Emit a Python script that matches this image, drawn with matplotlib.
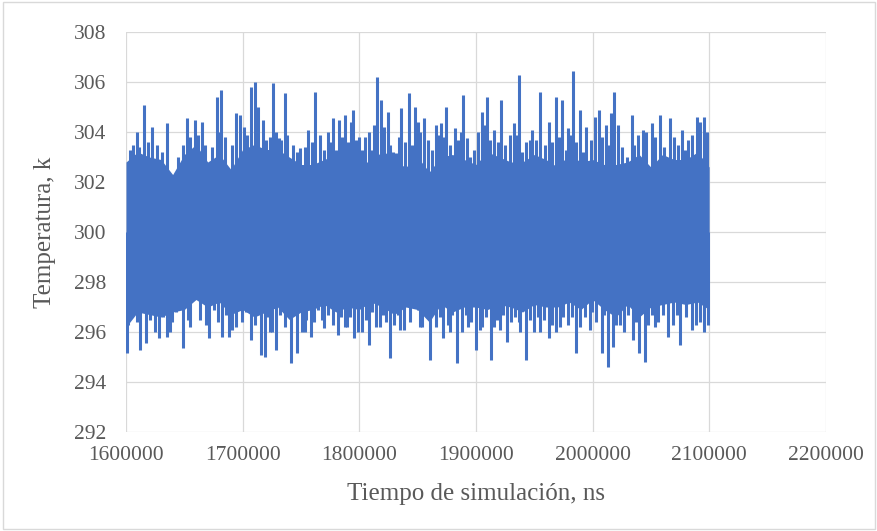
import numpy as np
import matplotlib.pyplot as plt
from matplotlib.patches import Rectangle

# envelope of the dense temperature signal
base_t = np.arange(1600000, 2100001, 10000)
base_hi = [302.8, 303.2, 303.0, 302.9, 302.3, 303.1, 303.5, 302.8, 303.1, 302.5,
           303.3, 303.5, 303.3, 303.3, 303.0, 302.7, 302.7, 302.9, 303.1, 302.9,
           303.0, 302.7, 303.3, 302.8, 302.6, 303.0, 302.4, 303.0, 303.1, 302.9,
           302.7, 303.2, 303.0, 302.8, 302.8, 303.1, 302.9, 302.6, 303.1, 302.8,
           302.9, 302.7, 302.7, 302.8, 303.1, 302.6, 303.1, 302.9, 302.9, 303.2, 302.6]
base_lo = [296.2, 296.8, 296.7, 296.6, 296.8, 296.9, 297.3, 297.0, 297.2, 296.7,
           296.9, 296.6, 296.8, 297.0, 296.5, 296.8, 296.9, 297.1, 296.8, 297.0,
           296.9, 297.2, 297.0, 296.7, 297.0, 296.9, 296.4, 297.1, 296.8, 297.0,
           297.0, 296.9, 297.1, 297.0, 296.8, 297.1, 297.0, 297.0, 297.2, 296.9,
           297.3, 296.9, 296.6, 297.1, 296.6, 297.0, 297.1, 297.2, 297.1, 297.2, 296.9]

# tall upward spikes
peak_t = [1609200, 1615400, 1622000, 1634900, 1652100, 1659200, 1664900, 1678300,
          1681700, 1685200, 1694600, 1697500, 1701200, 1706900, 1710400, 1713200,
          1717500, 1726100, 1731000, 1736100, 1749000, 1756100, 1762300, 1773000,
          1777300, 1782400, 1788100, 1793000, 1795000, 1799600, 1808100, 1815300,
          1818700, 1824400, 1831600, 1835800, 1843000, 1848100, 1855600, 1865600,
          1869900, 1874700, 1881900, 1889000, 1892700, 1905600, 1909300, 1915600,
          1921900, 1932700, 1936800, 1948200, 1955300, 1962500, 1969000, 1973900,
          1979100, 1983100, 1989600, 1994500, 2002500, 2005900, 2011600, 2015700,
          2018500, 2022200, 2033700, 2043600, 2050800, 2058000, 2066500, 2076600,
          2082200, 2089400, 2095900]
peak_v = [304.0, 305.1, 304.2, 304.35, 304.55, 304.5, 304.4, 305.4,
          305.7, 303.8, 304.75, 304.7, 304.2, 305.8, 306.0, 305.0,
          304.5, 305.95, 303.75, 305.55, 303.35, 304.1, 305.6, 304.0,
          304.55, 304.5, 304.7, 304.4, 304.9, 303.8, 304.0, 306.2,
          305.3, 304.8, 303.15, 304.95, 305.55, 305.0, 304.55, 304.3,
          304.35, 305.0, 304.15, 305.5, 303.75, 304.8, 305.4, 304.1,
          305.3, 304.35, 306.3, 304.1, 305.6, 304.4, 305.4, 305.3,
          304.15, 306.45, 304.9, 304.2, 304.6, 304.9, 304.3, 304.75,
          305.6, 304.3, 304.7, 304.1, 304.35, 304.7, 304.55, 304.1,
          303.7, 304.6, 304.6]

# smaller upward bristles
bristle_t = [1603400, 1606000, 1611100, 1618900, 1626600, 1630900, 1644600, 1648900,
             1654900, 1661700, 1667700, 1673700, 1680600, 1690900, 1703800, 1711500,
             1720100, 1723500, 1728700, 1732900, 1738100, 1743200, 1746600, 1753500,
             1759500, 1766400, 1769800, 1774900, 1780100, 1785200, 1790400, 1797200,
             1802400, 1805000, 1811000, 1812700, 1821300, 1826400, 1829000, 1834100,
             1839300, 1845300, 1850400, 1852100, 1859000, 1862400, 1867600, 1871900,
             1877900, 1884700, 1887300, 1895000, 1898400, 1901900, 1907000, 1912200,
             1919000, 1925000, 1929300, 1934500, 1939600, 1943000, 1946500, 1951600,
             1959300, 1965300, 1971300, 1977300, 1980800, 1985900, 1991900, 1998800,
             2008200, 2013400, 2015900, 2025400, 2029700, 2035700, 2039100, 2046000,
             2053700, 2061400, 2070000, 2073400, 2079400, 2085400, 2092300, 2098300]
bristle_v = [303.3, 303.5, 303.4, 303.6, 303.5, 303.2, 303.0, 303.5,
             303.8, 303.9, 303.5, 303.4, 304.0, 303.5, 303.9, 304.4,
             303.7, 303.8, 304.0, 303.7, 303.9, 303.5, 303.2, 303.4,
             303.6, 303.9, 303.3, 303.6, 303.3, 303.8, 303.6, 303.7,
             303.3, 303.8, 303.3, 304.3, 304.2, 303.5, 303.2, 303.8,
             303.6, 303.5, 304.4, 304.0, 303.7, 303.3, 303.9, 303.8,
             303.5, 303.7, 304.0, 303.0, 303.3, 304.0, 304.3, 303.7,
             303.6, 303.5, 303.9, 303.9, 303.2, 303.6, 303.7, 303.7,
             303.5, 303.6, 303.8, 303.3, 303.9, 303.6, 303.2, 303.7,
             303.8, 303.5, 304.0, 303.4, 303.0, 303.5, 303.9, 304.0,
             303.8, 303.4, 303.8, 303.5, 303.3, 303.9, 304.4, 304.0]

# deep downward spikes
trough_t = [1600600, 1612000, 1617200, 1628600, 1634900, 1637700, 1648600, 1654900,
            1671400, 1682300, 1688100, 1690900, 1707500, 1715500, 1719000, 1723500,
            1728900, 1741200, 1746900, 1753500, 1758400, 1770100, 1781600, 1787800,
            1795800, 1802400, 1808700, 1817800, 1826400, 1834900, 1852100, 1860700,
            1872100, 1877900, 1884100, 1893300, 1899900, 1905300, 1912800, 1920800,
            1927000, 1937900, 1943000, 1955100, 1962500, 1972200, 1985900, 1997900,
            2008200, 2013400, 2017900, 2023600, 2035100, 2040200, 2045100, 2053700,
            2065100, 2075100, 2085100, 2092300, 2099400]
trough_v = [295.15, 295.3, 295.55, 295.75, 295.8, 296.0, 295.35, 296.2,
            295.75, 295.8, 295.8, 296.1, 295.7, 295.1, 295.0, 296.0,
            295.3, 294.75, 295.15, 296.0, 295.8, 296.15, 295.9, 296.2,
            295.75, 296.0, 295.5, 296.2, 294.95, 296.1, 296.2, 294.9,
            295.75, 296.0, 294.75, 296.2, 295.3, 296.2, 294.9, 296.1,
            295.6, 296.0, 294.9, 296.0, 295.75, 296.2, 295.15, 296.1,
            295.15, 294.6, 295.4, 296.3, 295.7, 295.15, 294.8, 296.2,
            295.8, 295.5, 296.1, 296.4, 296.3]

# smaller downward bristles
dip_t = [1601700, 1605100, 1609400, 1620600, 1624900, 1631700, 1639400, 1642900,
         1653200, 1657500, 1663500, 1668600, 1675500, 1678900, 1685800, 1691800,
         1694300, 1699500, 1702900, 1710600, 1721800, 1725200, 1732100, 1736400,
         1744100, 1751000, 1754400, 1761200, 1764700, 1768100, 1773200, 1777500,
         1784400, 1789500, 1792100, 1798900, 1805800, 1811000, 1814400, 1820400,
         1823000, 1829800, 1833300, 1838400, 1843600, 1850400, 1853900, 1857300,
         1865900, 1869300, 1876200, 1879600, 1888100, 1891600, 1895900, 1903600,
         1908700, 1915600, 1918200, 1923300, 1930100, 1933600, 1937000, 1946500,
         1949900, 1953300, 1958500, 1965300, 1968800, 1974800, 1979100, 1982500,
         1989400, 1993600, 1999600, 2003100, 2009900, 2020200, 2023600, 2027100,
         2030500, 2037400, 2047700, 2051100, 2056200, 2060500, 2069100, 2072500,
         2080200, 2088800, 2092300, 2095700]
dip_v = [296.3, 297.0, 296.4, 296.5, 296.0, 296.6, 296.4, 296.8,
         296.5, 297.3, 296.5, 296.3, 296.9, 296.4, 296.7, 296.9,
         296.2, 296.4, 296.8, 296.3, 296.6, 296.0, 296.7, 296.2,
         296.9, 296.0, 296.5, 296.4, 296.9, 296.5, 296.7, 296.3,
         296.6, 296.2, 296.6, 296.0, 296.5, 296.8, 296.2, 296.7,
         296.4, 296.3, 296.7, 296.1, 296.4, 296.9, 296.2, 296.7,
         296.2, 296.6, 296.3, 296.7, 296.0, 296.7, 296.4, 296.1,
         296.6, 296.2, 296.5, 296.7, 296.4, 296.6, 296.4, 296.5,
         296.0, 296.6, 296.5, 296.3, 296.0, 296.6, 296.3, 296.6,
         296.2, 296.6, 296.8, 296.4, 296.7, 296.3, 296.8, 296.0,
         296.7, 296.4, 296.3, 296.7, 296.4, 296.7, 296.3, 296.7,
         296.6, 296.3, 296.6, 296.0]

xticks = [1600000, 1700000, 1800000, 1900000, 2000000, 2100000, 2200000]
yticks = [292, 294, 296, 298, 300, 302, 304, 306, 308]

blue = "#4472C4"
grey_txt = "#595959"
plt.rcParams['font.family'] = ['Liberation Serif', 'DejaVu Serif']

fig = plt.figure(figsize=(8.78, 5.31), dpi=100)
ax = fig.add_axes([0.1435, 0.1864, 0.797, 0.7533])

ax.fill_between(base_t, base_lo, base_hi, color=blue, lw=0, zorder=3)
ax.vlines(bristle_t, 300, bristle_v, color=blue, lw=2.2, zorder=3)
ax.vlines(dip_t, dip_v, 300, color=blue, lw=2.2, zorder=3)
ax.vlines(peak_t, 300, peak_v, color=blue, lw=2.2, zorder=3)
ax.vlines(trough_t, trough_v, 300, color=blue, lw=2.2, zorder=3)

ax.set_xlim(1600000, 2200000)
ax.set_ylim(292, 308)
ax.set_xticks(xticks)
ax.set_yticks(yticks)
ax.set_xticklabels([str(v) for v in xticks])
ax.set_yticklabels([str(v) for v in yticks])
ax.tick_params(length=0, labelsize=15.5, colors=grey_txt)
ax.tick_params(axis='y', pad=14)
ax.tick_params(axis='x', pad=10)
ax.grid(True, color="#d9d9d9", lw=0.9, zorder=0)
ax.set_axisbelow(True)
for s in ax.spines.values():
    s.set_visible(False)

ax.set_xlabel("Tiempo de simulación, ns", fontsize=18, color=grey_txt, labelpad=13)
ax.set_ylabel("Temperatura, k", fontsize=18, color=grey_txt, labelpad=13)

fig.patches.append(Rectangle((0.003, 0.003), 0.994, 0.994, transform=fig.transFigure,
                             fill=False, edgecolor="#d9d9d9", lw=1))

fig.savefig("out.png", dpi=100)
